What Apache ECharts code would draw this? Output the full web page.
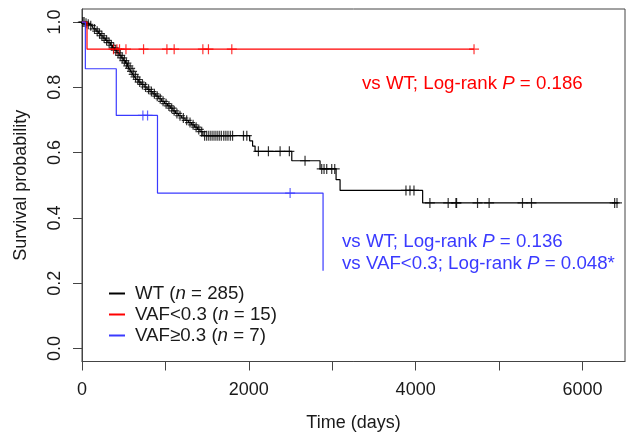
<!DOCTYPE html>
<html><head><meta charset="utf-8">
<script src="https://cdn.jsdelivr.net/npm/echarts@6/dist/echarts.min.js"></script>
<style>html,body{margin:0;padding:0;background:#fff}#c{width:629px;height:436px}</style>
</head><body><div id="c"></div>
<script>
// ---- data (days, survival probability) ----
const wtTimes = [0, 35, 62, 90, 118, 139, 168, 196, 224, 252, 280, 310, 340, 365, 392, 418, 445, 470, 495, 520, 545, 565, 588, 610, 632, 655, 680, 708, 745, 780, 815, 850, 885, 920, 955, 990, 1025, 1058, 1090, 1120, 1155, 1195, 1235, 1275, 1315, 1350, 1385, 1415, 1450, 2010, 2045, 2075, 2515, 2854, 3046, 3094, 4084, 6426];
const wtSurv = [1, 0.996, 0.993, 0.989, 0.985, 0.979, 0.972, 0.965, 0.958, 0.951, 0.944, 0.937, 0.929, 0.921, 0.914, 0.906, 0.898, 0.890, 0.882, 0.874, 0.866, 0.858, 0.849, 0.840, 0.832, 0.824, 0.816, 0.809, 0.801, 0.794, 0.787, 0.780, 0.773, 0.765, 0.757, 0.750, 0.743, 0.736, 0.728, 0.720, 0.713, 0.706, 0.699, 0.692, 0.685, 0.678, 0.671, 0.664, 0.652, 0.636, 0.620, 0.604, 0.575, 0.550, 0.517, 0.484, 0.446, 0.446];
const wtCensor = [10, 25, 48, 75, 105, 150, 182, 210, 238, 265, 295, 325, 352, 380, 405, 432, 458, 482, 508, 532, 555, 577, 600, 620, 642, 668, 692, 725, 762, 798, 832, 868, 902, 938, 972, 1008, 1042, 1075, 1105, 1138, 1175, 1215, 1255, 1295, 1332, 1368, 1400, 1435, 1470, 1495, 1520, 1545, 1570, 1595, 1620, 1645, 1670, 1700, 1725, 1750, 1778, 1805, 1936, 1976, 2115, 2235, 2375, 2486, 2674, 2874, 2902, 2934, 2994, 3030, 3884, 3932, 3980, 4171, 4390, 4483, 4491, 4742, 4881, 5281, 5389, 6386, 6414];

const lowTimes = [0, 60, 4700];
const lowSurv = [1, 0.917, 0.917];
const lowCensor = [378, 419, 450, 527, 738, 1018, 1105, 1449, 1516, 1796, 4700];

const highTimes = [0, 40, 411, 905, 2890];
const highSurv = [1, 0.857, 0.714, 0.476, 0.238];
const highCensor = [730, 786, 2495];

const groupNames = ['WT', 'VAF<0.3', 'VAF\u22650.3'];
const groupN = [285, 15, 7];

const xTicks = [0, 1000, 2000, 3000, 4000, 5000, 6000];
const xLabels = [0, 2000, 4000, 6000];
const yTicks = [0, 0.2, 0.4, 0.6, 0.8, 1.0];

const annRed = ['vs WT; Log-rank ', 'P', ' = 0.186'];
const annBlue1 = ['vs WT; Log-rank ', 'P', ' = 0.136'];
const annBlue2 = ['vs VAF<0.3; Log-rank ', 'P', ' = 0.048*'];

// ---- helpers ----
function survAt(times, surv, t) {
  let s = surv[0];
  for (let i = 0; i < times.length; i++) { if (times[i] <= t) s = surv[i]; }
  return s;
}
const FONT = '"Liberation Sans", Arial, Helvetica, sans-serif';
const PLUS = 'path://M4.4,0H5.6V4.4H10V5.6H5.6V10H4.4V5.6H0V4.4H4.4Z';
const cBlack = '#000000', cRed = '#ff0000', cBlue = '#3a3aff';
const FS = 18.7;

function curve(name, times, surv, color) {
  return { name, type: 'line', step: 'end', showSymbol: false, silent: true,
    data: times.map((t, i) => [t, surv[i]]), lineStyle: { color, width: 1.2 }, itemStyle: { color } };
}
function marks(times, surv, cens, color) {
  return { type: 'scatter', silent: true, symbol: PLUS, symbolSize: 10,
    data: cens.map(t => [t, survAt(times, surv, t)]), itemStyle: { color } };
}
function rich(color) {
  return { a: { fontFamily: FONT, fontSize: FS, fill: color, color, lineHeight: 22 },
           i: { fontFamily: FONT, fontSize: FS, fontStyle: 'italic', fill: color, color, lineHeight: 22 } };
}
function annText(parts) { return '{a|' + parts[0] + '}{i|' + parts[1] + '}{a|' + parts[2] + '}'; }

const chart = echarts.init(document.getElementById('c'), null, { renderer: 'canvas' });
chart.setOption({
  animation: false,
  backgroundColor: '#fff',
  grid: { left: 82, right: 4, top: 9, bottom: 74.5, containLabel: false, outerBoundsMode: 'none',
    show: true, borderColor: '#444', borderWidth: 1, backgroundColor: 'transparent' },
  xAxis: {
    type: 'value', min: 0, max: 6510,
    name: 'Time (days)', nameLocation: 'middle', nameGap: 53,
    nameTextStyle: { fontFamily: FONT, fontSize: 18, color: '#1a1a1a' },
    axisLine: { show: true, onZero: false, lineStyle: { color: '#444', width: 1 } },
    axisTick: { show: true, length: 9, customValues: xTicks, lineStyle: { color: '#444' } },
    axisLabel: { customValues: xLabels, margin: 20, fontFamily: FONT, fontSize: 18, color: '#1a1a1a',
      formatter: v => String(v) },
    splitLine: { show: false }
  },
  yAxis: {
    type: 'value', min: -0.04, max: 1.04,
    name: 'Survival probability', nameLocation: 'middle', nameGap: 52,
    nameTextStyle: { fontFamily: FONT, fontSize: 18, color: '#1a1a1a' },
    axisLine: { show: true, onZero: false, lineStyle: { color: '#444', width: 1 } },
    axisTick: { show: true, length: 9, customValues: yTicks, lineStyle: { color: '#444' } },
    axisLabel: { customValues: yTicks, rotate: 90, margin: 18, fontFamily: FONT, fontSize: 18, color: '#1a1a1a',
      formatter: v => Number(v).toFixed(1) },
    splitLine: { show: false }
  },
  legend: {
    data: groupNames, orient: 'vertical', left: 104, top: 279,
    icon: 'rect', itemWidth: 16, itemHeight: 2, itemGap: 2,
    textStyle: { fontFamily: FONT, fontSize: FS, color: '#1a1a1a', padding: [0, 0, 0, 5],
      rich: { t: { fontFamily: FONT, fontSize: FS, color: '#1a1a1a', lineHeight: 21 },
              i: { fontFamily: FONT, fontSize: FS, fontStyle: 'italic', color: '#1a1a1a', lineHeight: 21 } } },
    formatter: name => {
      const k = groupNames.indexOf(name);
      return '{t|' + name + ' (}{i|n}{t| = ' + groupN[k] + ')}';
    }
  },
  graphic: [
    { type: 'text', left: 362, top: 74, silent: true, style: { text: annText(annRed), rich: rich(cRed), fill: cRed } },
    { type: 'text', left: 342, top: 232, silent: true, style: { text: annText(annBlue1), rich: rich(cBlue), fill: cBlue } },
    { type: 'text', left: 342, top: 254, silent: true, style: { text: annText(annBlue2), rich: rich(cBlue), fill: cBlue } }
  ],
  series: [
    curve(groupNames[0], wtTimes, wtSurv, cBlack),
    marks(wtTimes, wtSurv, wtCensor, cBlack),
    curve(groupNames[1], lowTimes, lowSurv, cRed),
    marks(lowTimes, lowSurv, lowCensor, cRed),
    curve(groupNames[2], highTimes, highSurv, cBlue),
    marks(highTimes, highSurv, highCensor, cBlue)
  ]
});
</script>
</body></html>
